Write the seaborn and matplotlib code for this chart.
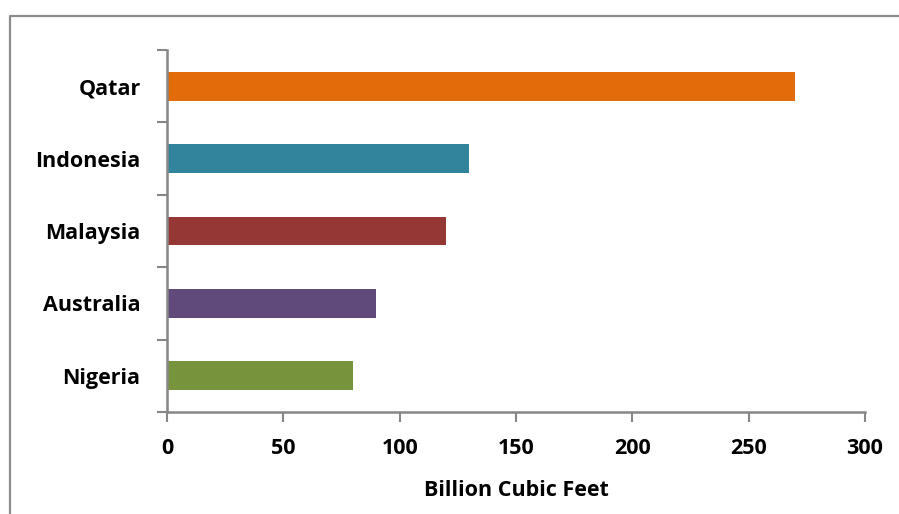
import pandas as pd
import seaborn as sns
import matplotlib.pyplot as plt
from matplotlib.lines import Line2D
from matplotlib.ticker import FixedLocator

# === Data ===
countries = ["Qatar", "Indonesia", "Malaysia", "Australia", "Nigeria"]
volumes = [270, 130, 120, 90, 80]
bar_colors = ["#E36C0A", "#31849B", "#953735", "#604A7B", "#77933C"]

df = pd.DataFrame({"country": countries, "bcf": volumes})

sns.set_style("white")
plt.rcParams["font.family"] = ["Open Sans", "DejaVu Sans"]
plt.rcParams["text.color"] = "black"
plt.rcParams["axes.labelcolor"] = "black"
plt.rcParams["xtick.labelcolor"] = "black"
plt.rcParams["ytick.labelcolor"] = "black"

fig = plt.figure(figsize=(8.99, 5.14), dpi=100)
ax = fig.add_axes([167 / 899, 1 - 412 / 514, (865 - 167) / 899, (412 - 50) / 514])

sns.barplot(
    data=df, x="bcf", y="country", hue="country",
    palette=bar_colors, width=0.4, legend=False, ax=ax,
    saturation=1, edgecolor="none", orient="h",
)

# === Axes styling ===
axis_gray = "#878787"
ax.set_xlim(0, 300)
ax.set_ylim(len(countries) - 0.5, -0.5)
ax.set_xticks([0, 50, 100, 150, 200, 250, 300])
ax.yaxis.set_minor_locator(FixedLocator([i - 0.5 for i in range(len(countries) + 1)]))
for s in ["top", "right"]:
    ax.spines[s].set_visible(False)
for s in ["left", "bottom"]:
    ax.spines[s].set_color(axis_gray)
    ax.spines[s].set_linewidth(1.8)

ax.tick_params(axis="x", which="major", direction="out", length=7, width=1.5,
               color=axis_gray, bottom=True, pad=11.5, labelsize=15.5)
ax.tick_params(axis="y", which="major", length=0, pad=19, labelsize=15.5)
ax.tick_params(axis="y", which="minor", direction="out", length=7, width=1.5,
               color=axis_gray, left=True)
for lbl in ax.get_xticklabels() + ax.get_yticklabels():
    lbl.set_fontweight("bold")

ax.set_ylabel("")
ax.set_xlabel("Billion Cubic Feet", fontsize=15.5, fontweight="bold", labelpad=15.5)

# === Outer chart border (runs off right and bottom edges) ===
x0, y0 = 9.5 / 899, 1 - 15.5 / 514
fig.add_artist(Line2D([x0, x0, 1.05], [-0.05, y0, y0], transform=fig.transFigure,
                      color="#8c8c8c", linewidth=1.6))

fig.savefig("out.png", dpi=100)
